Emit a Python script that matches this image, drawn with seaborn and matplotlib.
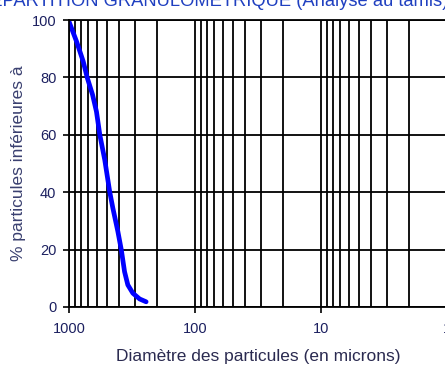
import matplotlib
matplotlib.use("Agg")
import matplotlib.pyplot as plt
import matplotlib.ticker as mticker
import seaborn as sns
import pandas as pd

# Sieve analysis: particle diameter (microns) vs cumulative % passing
diametre = [1000, 870, 771, 717, 650, 605, 569, 520, 475, 448, 409, 384, 362, 341, 311, 275, 244]
pourcentage = [99.5, 92.5, 85.6, 80.0, 74.0, 68.1, 60.0, 51.3, 40.2, 34.4, 26.3, 19.9, 12.3, 7.7, 4.8, 2.8, 1.8]
x_ticks = [1000, 100, 10, 1]
y_ticks = [0, 20, 40, 60, 80, 100]

titre = "RÉPARTITION GRANULOMÉTRIQUE (Analyse au tamis)"
x_label = "Diamètre des particules (en microns)"
y_label = "% particules inférieures à"

sns.set_theme(style="white")
plt.rcParams["font.family"] = ["Liberation Sans", "DejaVu Sans"]

df = pd.DataFrame({"d": diametre, "p": pourcentage})

fig = plt.figure(figsize=(4.45, 3.65), dpi=100)
ax = fig.add_axes([0.155, 0.159, 0.849, 0.786])

ax.set_xscale("log")
ax.set_xlim(1000, 1)
ax.set_ylim(0, 100)

ax.grid(True, which="both", axis="x", color="black", linewidth=1.3)
ax.grid(True, which="major", axis="y", color="black", linewidth=1.3)
ax.set_axisbelow(True)

sns.lineplot(data=df, x="d", y="p", ax=ax, sort=False, color="#0000ff",
             linewidth=3.4, estimator=None, solid_capstyle="round",
             solid_joinstyle="round")

ax.set_xticks(x_ticks)
ax.xaxis.set_major_formatter(mticker.FixedFormatter([str(v) for v in x_ticks]))
ax.xaxis.set_minor_locator(mticker.LogLocator(base=10, subs=range(2, 10)))
ax.xaxis.set_minor_formatter(mticker.NullFormatter())
ax.set_yticks(y_ticks)

ax.tick_params(axis="x", which="major", direction="out", length=4, width=1.2,
               color="black", labelsize=10.5, labelcolor="#1c2060", pad=7, bottom=True)
ax.tick_params(axis="x", which="minor", length=0)
ax.tick_params(axis="y", direction="out", length=4, width=1.2, color="black",
               labelsize=10.5, labelcolor="#1c2060", left=True, pad=5)

for side in ["left", "bottom", "top"]:
    ax.spines[side].set_color("black")
    ax.spines[side].set_linewidth(1.3)
ax.spines["right"].set_visible(False)

ax.set_xlabel(x_label, fontsize=12.5, color="#2a2a50", labelpad=9)
ax.set_ylabel(y_label, fontsize=12.5, color="#3a4070", labelpad=4)

fig.text(-0.052, 0.984, titre, fontsize=13.2, color="#2040c0", ha="left", va="baseline")

fig.savefig("out.png", dpi=100)
